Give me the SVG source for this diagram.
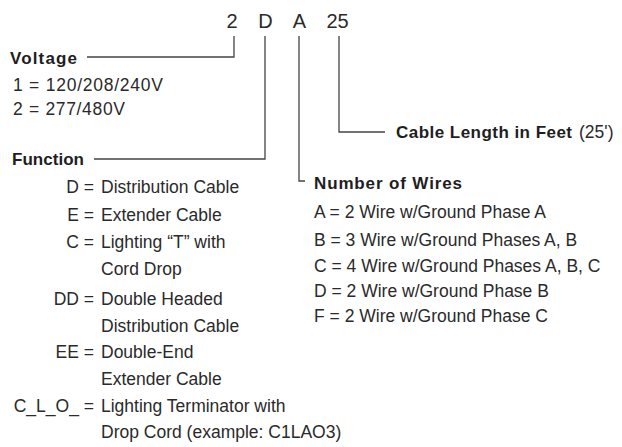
<svg xmlns="http://www.w3.org/2000/svg" width="622" height="447" viewBox="0 0 622 447">
<style>
text{font-family:"Liberation Sans",Arial,sans-serif;fill:#2a2a2a}
.code{font-size:20px}
.h{font-size:17px;font-weight:bold;fill:#1e1e1e}
.t{font-size:17.5px}
.r{text-anchor:end}
.ln{fill:none;stroke:#444;stroke-width:1.3}
</style>
<rect width="622" height="447" fill="#fff"/>
<g id="code">
<text class="code" x="232" y="28" text-anchor="middle">2</text>
<text class="code" x="265.5" y="28" text-anchor="middle">D</text>
<text class="code" x="299.5" y="28" text-anchor="middle">A</text>
<text class="code" x="337.5" y="28" text-anchor="middle">25</text>
</g>
<g id="connectors">
<polyline class="ln" points="87,57 234,57 234,36"/>
<polyline class="ln" points="94,159 265,159 265,36"/>
<polyline class="ln" points="299,36 299,181 305,181"/>
<polyline class="ln" points="339,36 339,132 385,132"/>
</g>
<g id="voltage">
<text class="h" x="10" y="64" textLength="67">Voltage</text>
<text class="t" x="13" y="91" textLength="150">1 = 120/208/240V</text>
<text class="t" x="13" y="115" textLength="112">2 = 277/480V</text>
</g>
<g id="function">
<text class="h" x="12" y="165" textLength="72">Function</text>
<text class="t r" x="94" y="193">D =</text><text class="t" x="101" y="193">Distribution Cable</text>
<text class="t r" x="94" y="221">E =</text><text class="t" x="101" y="221">Extender Cable</text>
<text class="t r" x="94" y="248">C =</text><text class="t" x="101" y="248">Lighting “T” with</text>
<text class="t" x="101" y="275">Cord Drop</text>
<text class="t r" x="94" y="305">DD =</text><text class="t" x="101" y="305">Double Headed</text>
<text class="t" x="101" y="332">Distribution Cable</text>
<text class="t r" x="94" y="358">EE =</text><text class="t" x="101" y="358">Double-End</text>
<text class="t" x="101" y="385">Extender Cable</text>
<text class="t r" x="94" y="412">C_L_O_ =</text><text class="t" x="101" y="412">Lighting Terminator with</text>
<text class="t" x="101" y="438">Drop Cord (example: C1LAO3)</text>
</g>
<g id="wires">
<text class="h" x="314" y="189" textLength="148">Number of Wires</text>
<text class="t" x="314" y="218">A = 2 Wire w/Ground Phase A</text>
<text class="t" x="314" y="246">B = 3 Wire w/Ground Phases A, B</text>
<text class="t" x="314" y="272">C = 4 Wire w/Ground Phases A, B, C</text>
<text class="t" x="314" y="297">D = 2 Wire w/Ground Phase B</text>
<text class="t" x="314" y="322">F = 2 Wire w/Ground Phase C</text>
</g>
<g id="length">
<text class="h" x="396" y="138" textLength="176">Cable Length in Feet</text>
<text class="t" x="579" y="138">(25')</text>
</g>
</svg>
